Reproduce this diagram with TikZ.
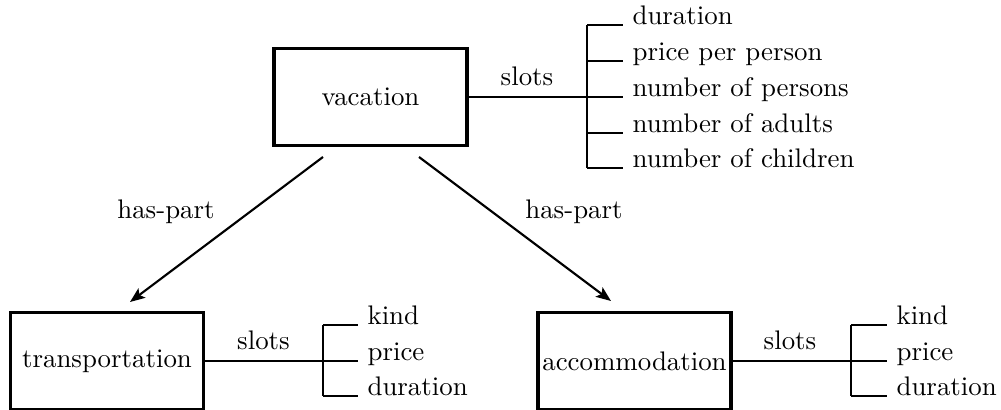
\documentclass[tikz,border=0pt]{standalone}
\usetikzlibrary{arrows.meta}
\begin{document}
\begin{tikzpicture}[x=0.3759pt,y=-0.3759pt,
  font=\fontsize{10.1}{12}\selectfont,
  frame/.style={draw, line width=1.2pt, inner sep=0pt,
    minimum width=72.55pt, minimum height=36.46pt},
  link/.style={line width=0.8pt},
  haspart/.style={line width=0.8pt, -{Stealth[length=5.6pt,width=4.4pt,inset=1.2pt]}},
  item/.style={anchor=base west, inner sep=0pt},
  lab/.style={anchor=base, inner sep=0pt}]
\useasboundingbox (0,0) rectangle (1001,410);

% frames
\node[frame] (vac) at (370.5,97) {vacation};
\node[frame] (trans) at (107,361) {transportation};
\node[frame] (acc) at (634.5,361) {accommodation};

% slot bracket of vacation
\foreach \y/\n in {25/v1,61/v2,97/v3,133/v4,168/v5} {
  \coordinate (\n a) at (587,\y);
  \coordinate (\n b) at (623,\y);
}
\draw[link] (vac.east) -- (vac.east -| v3a);
\draw[link] (v1a) -- (v5a);
\foreach \n in {v1,v2,v3,v4,v5} \draw[link] (\n a) -- (\n b);
\node[lab] (vs) at (527,86) {slots};
\node[item] (vt1) at ([xshift=3.4pt]v1b) {duration};
\node[item] (vt2) at ([xshift=3.4pt]v2b) {price per person};
\node[item] (vt3) at ([xshift=3.4pt]v3b) {number of persons};
\node[item] (vt4) at ([xshift=3.4pt]v4b) {number of adults};
\node[item] (vt5) at ([xshift=3.4pt]v5b) {number of children};

% slot bracket of transportation
\foreach \y/\n in {325/t1,361/t2,396/t3} {
  \coordinate (\n a) at (323,\y);
  \coordinate (\n b) at (358,\y);
}
\draw[link] (trans.east) -- (trans.east -| t2a);
\draw[link] (t1a) -- (t3a);
\foreach \n in {t1,t2,t3} \draw[link] (\n a) -- (\n b);
\node[lab] (ts) at (263.5,350) {slots};
\node[item] (tt1) at ([xshift=3.4pt]t1b) {kind};
\node[item] (tt2) at ([xshift=3.4pt]t2b) {price};
\node[item] (tt3) at ([xshift=3.4pt]t3b) {duration};

% slot bracket of accommodation
\foreach \y/\n in {325/a1,361/a2,396/a3} {
  \coordinate (\n a) at (851,\y);
  \coordinate (\n b) at (887,\y);
}
\draw[link] (acc.east) -- (acc.east -| a2a);
\draw[link] (a1a) -- (a3a);
\foreach \n in {a1,a2,a3} \draw[link] (\n a) -- (\n b);
\node[lab] (as) at (790,350) {slots};
\node[item] (at1) at ([xshift=3.4pt]a1b) {kind};
\node[item] (at2) at ([xshift=3.4pt]a2b) {price};
\node[item] (at3) at ([xshift=3.4pt]a3b) {duration};

% has-part arrows
\coordinate (l0) at (323,157);
\coordinate (l1) at (130,302);
\coordinate (r0) at (419,157);
\coordinate (r1) at (611,301);
\draw[haspart] (l0) -- (l1);
\draw[haspart] (r0) -- (r1);
\node[lab] (hl) at (166,219) {has-part};
\node[lab] (hr) at (574,219) {has-part};
\end{tikzpicture}
\end{document}
